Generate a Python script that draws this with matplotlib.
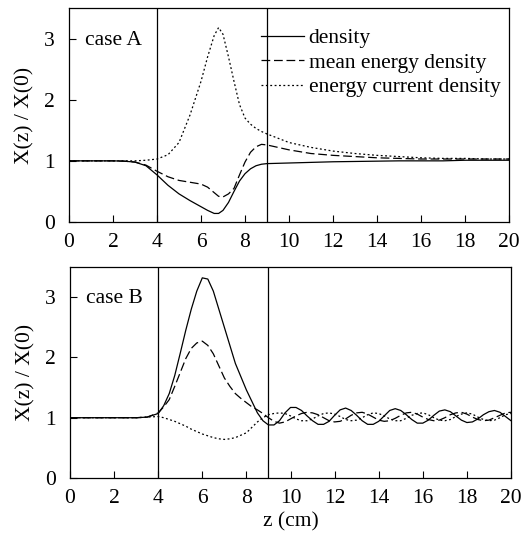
import matplotlib
matplotlib.use("Agg")
import matplotlib.pyplot as plt

plt.rcParams['font.family'] = ['Liberation Serif', 'DejaVu Serif']

# ---------------- data ----------------
zA = [0, 1, 2, 2.5, 3, 3.5, 4, 4.5, 5, 5.5,
      6, 6.3, 6.6, 6.8, 7.0, 7.25, 7.5, 7.75, 8.0, 8.25,
      8.5, 8.75, 9.0, 9.5, 10, 11, 12, 13, 14, 15,
      16, 17, 18, 19, 20]
density_A = [1.0, 1.0, 1.0, 0.995, 0.98, 0.92, 0.77, 0.6, 0.46, 0.35,
             0.25, 0.19, 0.14, 0.14, 0.19, 0.32, 0.5, 0.67, 0.79, 0.87,
             0.92, 0.945, 0.955, 0.96, 0.965, 0.975, 0.985, 0.99, 0.995, 1.0,
             1.0, 1.0, 1.01, 1.01, 1.01]
mean_energy_A = [1.0, 1.0, 1.0, 0.995, 0.98, 0.93, 0.83, 0.74, 0.68, 0.65,
                 0.62, 0.57, 0.48, 0.42, 0.41, 0.46, 0.55, 0.77, 0.98, 1.14,
                 1.23, 1.27, 1.26, 1.22, 1.18, 1.12, 1.09, 1.07, 1.05, 1.04,
                 1.03, 1.03, 1.03, 1.03, 1.03]
energy_current_A = [1.0, 1.0, 1.0, 1.0, 1.0, 1.01, 1.03, 1.1, 1.3, 1.75,
                    2.3, 2.7, 3.05, 3.18, 3.07, 2.7, 2.3, 1.92, 1.7, 1.6,
                    1.53, 1.48, 1.44, 1.37, 1.3, 1.22, 1.16, 1.12, 1.09, 1.07,
                    1.05, 1.04, 1.04, 1.03, 1.03]

zB = [0, 1, 2, 3, 3.5,
      4.0, 4.25, 4.5, 4.75, 5.0, 5.25, 5.5, 5.75, 6.0, 6.25, 6.5, 6.75,
      7.0, 7.25, 7.5, 7.75, 8.0, 8.25, 8.5, 8.75, 9.0, 9.25, 9.5, 9.75,
      10.0, 10.25, 10.5, 10.75, 11.0, 11.25, 11.5, 11.75, 12.0, 12.25, 12.5, 12.75,
      13.0, 13.25, 13.5, 13.75, 14.0, 14.25, 14.5, 14.75, 15.0, 15.25, 15.5, 15.75,
      16.0, 16.25, 16.5, 16.75, 17.0, 17.25, 17.5, 17.75, 18.0, 18.25, 18.5, 18.75,
      19.0, 19.25, 19.5, 19.75, 20.0]
density_B = [1.0, 1.0, 1.0, 1.0, 1.01,
             1.07, 1.2, 1.4, 1.7,
             2.07, 2.45, 2.8, 3.1,
             3.32, 3.3, 3.1, 2.8,
             2.5, 2.2, 1.9, 1.68,
             1.46, 1.27, 1.08, 0.95,
             0.88, 0.88, 0.95, 1.08,
             1.17, 1.17, 1.12, 1.03,
             0.95, 0.89, 0.89, 0.94,
             1.04, 1.13, 1.16, 1.12,
             1.04, 0.95, 0.89, 0.89,
             0.94, 1.03, 1.12, 1.15,
             1.12, 1.05, 0.97, 0.91,
             0.91, 0.96, 1.04, 1.11,
             1.13, 1.10, 1.03, 0.96,
             0.92, 0.93, 0.98, 1.05,
             1.10, 1.12, 1.09, 1.02,
             0.95]
mean_energy_B = [1.0, 1.0, 1.0, 1.0, 1.01,
                 1.08, 1.18, 1.3, 1.52,
                 1.75, 1.98, 2.15, 2.24,
                 2.27, 2.2, 2.06, 1.86,
                 1.66, 1.52, 1.4, 1.32,
                 1.25, 1.18, 1.13, 1.07,
                 1.0, 0.94, 0.91, 0.93,
                 0.98, 1.03, 1.07, 1.09,
                 1.08, 1.05, 1.0, 0.95,
                 0.93, 0.94, 0.98, 1.04,
                 1.08, 1.09, 1.06, 1.01,
                 0.96, 0.94, 0.95, 0.99,
                 1.04, 1.08, 1.09, 1.06,
                 1.01, 0.97, 0.95, 0.96,
                 1.0, 1.05, 1.08, 1.09,
                 1.06, 1.01, 0.97, 0.95,
                 0.96, 1.0, 1.04, 1.08,
                 1.09]
energy_current_B = [1.0, 1.0, 1.0, 1.0, 1.01,
                    1.02, 1.0, 0.97, 0.94,
                    0.9, 0.86, 0.81, 0.77,
                    0.73, 0.7, 0.67, 0.65,
                    0.64, 0.65, 0.67, 0.71,
                    0.75, 0.84, 0.93, 1.0,
                    1.05, 1.07, 1.08, 1.07,
                    1.03, 0.98, 0.95, 0.95,
                    0.98, 1.03, 1.07, 1.08,
                    1.06, 1.02, 0.97, 0.95,
                    0.96, 1.0, 1.05, 1.08,
                    1.07, 1.03, 0.98, 0.95,
                    0.95, 0.99, 1.04, 1.07,
                    1.08, 1.05, 1.0, 0.96,
                    0.95, 0.97, 1.02, 1.06,
                    1.08, 1.06, 1.01, 0.97,
                    0.95, 0.96, 1.0, 1.05,
                    1.07]

boundaries = [4, 9]
labels = ["density", "mean energy density", "energy current density"]
xticks = [0, 2, 4, 6, 8, 10, 12, 14, 16, 18, 20]
yticks = [0, 1, 2, 3]

# ---------------- figure ----------------
W, H = 526, 534
fig = plt.figure(figsize=(W / 100, H / 100), dpi=100)

def px_axes(left, top, right, bottom):
    return fig.add_axes([left / W, 1 - bottom / H, (right - left) / W, (bottom - top) / H])

axA = px_axes(69, 8, 509, 222)
axB = px_axes(70, 267, 511, 478)

styles = [dict(ls='-'), dict(ls=(0, (7, 3))), dict(ls=(0, (1.5, 2)))]
FS = 15.5

def draw(ax, z, series, case_label):
    for y, st, lab in zip(series, styles, labels):
        ax.plot(z, y, color='black', lw=0.9, label=lab, **st)
    for b in boundaries:
        ax.axvline(b, color='black', lw=0.9)
    ax.set_xlim(0, 20)
    ax.set_ylim(0, 3.5)
    ax.set_xticks(xticks)
    ax.set_yticks(yticks)
    ax.tick_params(direction='in', length=5, width=0.8, labelsize=FS)
    ax.tick_params(axis='x', pad=8)
    ax.tick_params(axis='y', pad=10)
    for s in ax.spines.values():
        s.set_linewidth(0.9)
    ax.set_ylabel("X(z) / X(0)", fontsize=FS, labelpad=7)
    ax.text(0.72, 2.97, case_label, fontsize=FS, va='center', ha='left')

draw(axA, zA, [density_A, mean_energy_A, energy_current_A], "case A")
draw(axB, zB, [density_B, mean_energy_B, energy_current_B], "case B")

axA.legend(loc='upper right', frameon=False, fontsize=FS, handlelength=2.0,
           handletextpad=0.2, labelspacing=0.2, borderaxespad=0.0,
           bbox_to_anchor=(1.0, 0.945))
axB.set_xlabel("z (cm)", fontsize=FS, labelpad=3)

fig.savefig("out.png", dpi=100)
